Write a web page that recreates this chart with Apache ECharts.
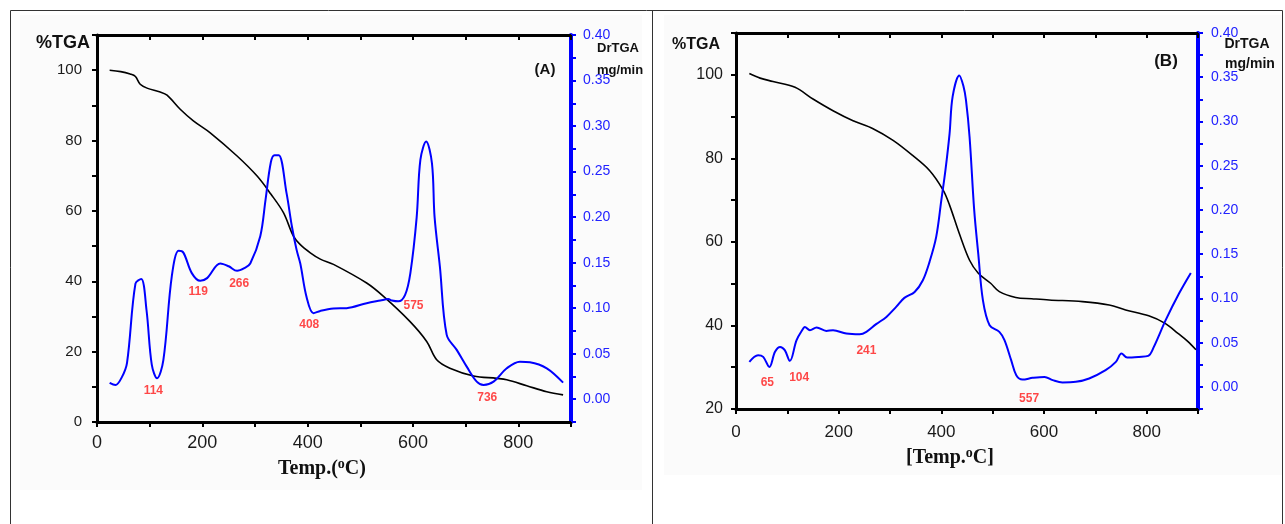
<!DOCTYPE html>
<html>
<head>
<meta charset="utf-8">
<script src="https://cdn.jsdelivr.net/npm/echarts@6/dist/echarts.min.js"></script>
<style>
  html, body { margin: 0; padding: 0; background: #ffffff; }
  #chart { width: 1285px; height: 524px; }
</style>
</head>
<body>
<div id="chart"></div>
<script>
// ---- Sample (A): TGA (% mass) and derivative DrTGA (mg/min) vs temperature (°C)
const tgaA = [
  [24, 100], [45, 99.6], [63, 98.9], [73, 98.2], [82, 96], [95, 94.9], [120, 93.8],
  [133, 92.9], [158, 88.9], [183, 85.6], [215, 82.2], [266, 75.6], [304, 69.9],
  [330, 64.8], [354, 59.5], [373, 52.8], [386, 50.4], [405, 48.1], [424, 46.3],
  [449, 44.8], [512, 39.5], [544, 35.7], [594, 28.6], [626, 22.9], [645, 17.7],
  [670, 15.3], [715, 13.1], [759, 12.4], [778, 12], [816, 10.3], [854, 8.6], [885, 7.7]
];
const dtgA = [
  [24, 0.018], [35, 0.0157], [47, 0.024], [57, 0.040], [73, 0.127], [84, 0.132],
  [94, 0.098], [104, 0.038], [114, 0.023], [126, 0.043], [142, 0.135], [155, 0.163],
  [164, 0.161], [180, 0.1385], [196, 0.130], [209, 0.133], [234, 0.149], [250, 0.146],
  [266, 0.141], [280, 0.144], [291, 0.149], [310, 0.179], [320, 0.219], [330, 0.26],
  [337, 0.268], [345, 0.268], [360, 0.226], [370, 0.19], [379, 0.164], [386, 0.149],
  [398, 0.112], [411, 0.0945], [424, 0.097], [449, 0.0996], [474, 0.100], [512, 0.1055],
  [538, 0.1084], [553, 0.110], [560, 0.1084], [572, 0.1075], [585, 0.1146], [595, 0.1385],
  [607, 0.2], [614, 0.263], [625, 0.283], [636, 0.259], [641, 0.2], [651, 0.146],
  [664, 0.0707], [683, 0.0542], [702, 0.0358], [721, 0.0193], [734, 0.0157], [753, 0.0193],
  [778, 0.034], [803, 0.0413], [822, 0.0407], [854, 0.034], [885, 0.0182]
];
// Peak temperature notes for (A): text, temperature anchor, %TGA anchor
const notesA = [
  ['114', 107, 8.8], ['119', 192, 36.9], ['266', 270, 39.2],
  ['408', 403, 27.8], ['575', 601, 33.2], ['736', 741, 6.8]
];

// ---- Sample (B)
const tgaB = [
  [26, 100.3], [47, 99.2], [72, 98.4], [115, 97], [150, 94.2], [189, 91.4], [228, 89],
  [267, 87.1], [306, 84.3], [344, 80.7], [377, 77.1], [403, 72.5], [416, 68.8], [435, 62],
  [455, 55.6], [472, 52.5], [496, 50.1], [513, 48.1], [545, 46.7], [576, 46.4], [610, 46.1],
  [675, 45.7], [727, 44.9], [759, 43.7], [804, 42.3], [836, 40.5], [861, 38.1], [880, 36.2],
  [896, 34.2]
];
const dtgB = [
  [26, 0.0282], [43, 0.0358], [53, 0.0339], [65, 0.0226], [76, 0.0396], [86, 0.0452],
  [95, 0.0415], [105, 0.0294], [118, 0.0528], [131, 0.066], [134, 0.0678], [144, 0.064],
  [157, 0.0671], [176, 0.0633], [189, 0.064], [215, 0.0603], [241, 0.0595], [254, 0.0622],
  [273, 0.0709], [293, 0.0791], [312, 0.0904], [328, 0.1006], [348, 0.1073], [364, 0.1206],
  [377, 0.1413], [390, 0.1695], [400, 0.211], [408, 0.245], [416, 0.286], [422, 0.328],
  [435, 0.352], [443, 0.340], [448, 0.324], [455, 0.2825], [464, 0.2], [472, 0.15],
  [481, 0.098], [494, 0.0697], [513, 0.0622], [523, 0.0528], [536, 0.0302], [546, 0.0132],
  [558, 0.0083], [578, 0.0102], [601, 0.0113], [617, 0.0076], [636, 0.005], [662, 0.0057],
  [688, 0.0095], [720, 0.0189], [740, 0.0283], [751, 0.0377], [762, 0.0332], [785, 0.0339],
  [803, 0.035], [814, 0.0452], [837, 0.0754], [863, 0.1055], [886, 0.1288]
];
const notesB = [
  ['65', 61, 26.4], ['104', 123, 27.5], ['241', 254, 33.9], ['557', 571, 22.4]
];

// Axis extents and tick steps
const tempRange = [0, 900];
const tempStep = 100;
const tgaRangeA = [0, 110];
const tgaRangeB = [20, 110];
const tgaStep = 10;
const dtgRange = [-0.025, 0.40];
const dtgStep = 0.025;

const SANS = '"Liberation Sans", Arial, sans-serif';
const SERIF = '"Liberation Serif", "Times New Roman", serif';
const BLUE = '#0000ff';

function bottomAxis(grid, labelSize, labelMargin, title, gap, shift) {
  return {
    type: 'value', gridIndex: grid, position: 'bottom',
    min: tempRange[0], max: tempRange[1], interval: tempStep,
    axisLine: { show: true, onZero: false, lineStyle: { color: '#000', width: 3 } },
    axisTick: { show: true, inside: false, length: 5, lineStyle: { color: '#000', width: 2 } },
    axisLabel: {
      show: true, margin: labelMargin, color: '#1a1a1a', fontFamily: SANS, fontSize: labelSize,
      formatter: v => (Math.round(v) % 200 === 0 ? String(Math.round(v)) : '')
    },
    splitLine: { show: false },
    name: title, nameLocation: 'middle', nameGap: gap,
    nameTextStyle: {
      padding: [0, shift, 0, 0],
      rich: {
        t: { fontFamily: SERIF, fontWeight: 'bold', fontSize: 20, color: '#111', lineHeight: 24 },
        s: { fontFamily: SERIF, fontWeight: 'bold', fontSize: 14, color: '#111', verticalAlign: 'top', lineHeight: 22 }
      }
    }
  };
}
function topAxis(grid) {
  return {
    type: 'value', gridIndex: grid, position: 'top',
    min: tempRange[0], max: tempRange[1], interval: tempStep,
    axisLine: { show: true, onZero: false, lineStyle: { color: '#000', width: 3 } },
    axisTick: { show: true, inside: true, length: 5, lineStyle: { color: '#000', width: 2 } },
    axisLabel: { show: false },
    splitLine: { show: false }
  };
}
function leftAxis(grid, range, labelSize, labelMargin) {
  return {
    type: 'value', gridIndex: grid, position: 'left',
    min: range[0], max: range[1], interval: tgaStep,
    axisLine: { show: true, onZero: false, lineStyle: { color: '#000', width: 3 } },
    axisTick: { show: true, inside: false, length: 5, lineStyle: { color: '#000', width: 2 } },
    axisLabel: {
      show: true, margin: labelMargin, color: '#1a1a1a', fontFamily: SANS, fontSize: labelSize,
      formatter: v => (Math.round(v) % 20 === 0 ? String(Math.round(v)) : '')
    },
    splitLine: { show: false }
  };
}
function rightAxis(grid, labelMargin) {
  return {
    type: 'value', gridIndex: grid, position: 'right',
    min: dtgRange[0], max: dtgRange[1], interval: dtgStep,
    axisLine: { show: true, onZero: false, lineStyle: { color: BLUE, width: 4 } },
    axisTick: { show: true, inside: false, length: 5, lineStyle: { color: BLUE, width: 2 } },
    axisLabel: {
      show: true, margin: labelMargin, color: '#2222ff', fontFamily: SANS, fontSize: 14,
      formatter: v => {
        const k = Math.round(v * 1000);
        return (k >= 0 && k % 50 === 0) ? (k / 1000).toFixed(2) : '';
      }
    },
    splitLine: { show: false }
  };
}
function curve(data, x, y, color, width) {
  return {
    type: 'line', xAxisIndex: x, yAxisIndex: y, data: data,
    showSymbol: false, symbol: 'none', smooth: 0.35,
    lineStyle: { color: color, width: width }, silent: true, z: 3
  };
}
function notes(list, x, y) {
  return {
    type: 'scatter', xAxisIndex: x, yAxisIndex: y, symbolSize: 0, silent: true, z: 5,
    data: list.map(n => [n[1], n[2], n[0]]),
    label: {
      show: true, position: 'inside', formatter: p => p.data[2],
      color: '#ff1a1a', fontFamily: SANS, fontWeight: 'bold', fontSize: 12
    }
  };
}
function text(str, x, y, size, extra) {
  return Object.assign({
    type: 'text', x: x, y: y, z: 10,
    style: {
      text: str, fill: '#111', font: 'bold ' + size + 'px ' + SANS,
      textAlign: 'center', textVerticalAlign: 'middle'
    }
  }, extra || {});
}

const chart = echarts.init(document.getElementById('chart'), null, { renderer: 'canvas' });
chart.setOption({
  backgroundColor: '#ffffff',
  animation: false,
  grid: [
    { left: 97, top: 35, right: 714, bottom: 102, containLabel: false },
    { left: 736, top: 33, right: 87, bottom: 115, containLabel: false }
  ],
  xAxis: [
    bottomAxis(0, 18, 12, '{t|Temp.(}{s|o}{t|C)}', 31, 24),
    bottomAxis(1, 17, 15, '{t|[Temp.}{s|o}{t|C]}', 31, 34),
    topAxis(0),
    topAxis(1)
  ],
  yAxis: [
    leftAxis(0, tgaRangeA, 15, 15),
    rightAxis(0, 12),
    leftAxis(1, tgaRangeB, 16, 13),
    rightAxis(1, 13)
  ],
  series: [
    curve(tgaA, 0, 0, '#000000', 1.6),
    curve(dtgA, 0, 1, BLUE, 2),
    notes(notesA, 0, 0),
    curve(tgaB, 1, 2, '#000000', 1.6),
    curve(dtgB, 1, 3, BLUE, 2),
    notes(notesB, 1, 2)
  ],
  graphic: [
    // panel backdrops and frame
    { type: 'rect', z: -10, shape: { x: 20, y: 15, width: 622, height: 475 }, style: { fill: '#fbfbfb' } },
    { type: 'rect', z: -10, shape: { x: 664, y: 15, width: 618, height: 460 }, style: { fill: '#fbfbfb' } },
    { type: 'rect', z: -5, shape: { x: 10.5, y: 10.5, width: 1272, height: 600 }, style: { fill: null, stroke: '#333', lineWidth: 1 } },
    { type: 'line', z: -5, shape: { x1: 652.5, y1: 10, x2: 652.5, y2: 524 }, style: { stroke: '#333', lineWidth: 1 } },
    // panel (A) titles
    text('%TGA', 63, 43, 18),
    text('DrTGA', 618, 48, 13),
    text('mg/min', 620, 70, 13),
    text('(A)', 545, 70, 15),
    // panel (B) titles
    text('%TGA', 696, 45, 16),
    text('DrTGA', 1247, 44, 14),
    text('mg/min', 1250, 64, 14),
    text('(B)', 1166, 61, 17)
  ]
});
</script>
</body>
</html>
